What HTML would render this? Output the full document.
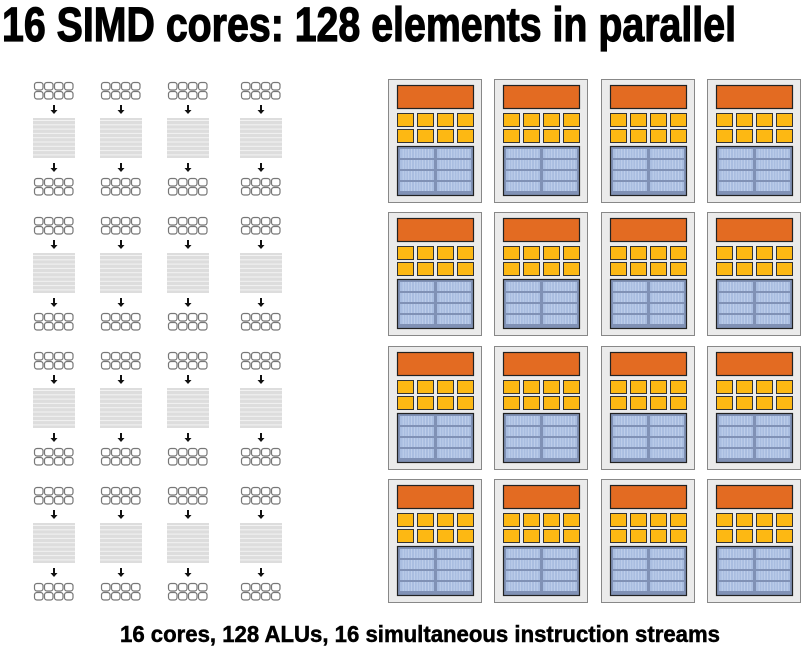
<!DOCTYPE html>
<html><head><meta charset="utf-8"><style>
html,body{margin:0;padding:0;background:#fff;width:803px;height:656px;overflow:hidden}
</style></head><body>
<svg id="s" width="803" height="656" xmlns="http://www.w3.org/2000/svg">
<text x="2" y="41" font-family="Liberation Sans, sans-serif" font-weight="bold" font-size="48" stroke="#000" stroke-width="1.2" textLength="734" lengthAdjust="spacingAndGlyphs">16 SIMD cores: 128 elements in parallel</text>
<text x="120" y="642" font-family="Liberation Sans, sans-serif" font-weight="bold" font-size="23" stroke="#000" stroke-width="0.5" textLength="600" lengthAdjust="spacingAndGlyphs">16 cores, 128 ALUs, 16 simultaneous instruction streams</text>
<g id="g"></g>
</svg>
<script>
var g=document.getElementById('g'),h='';
function r(x,y,w,h2,f,s,sw,rx){return '<rect x="'+x+'" y="'+y+'" width="'+w+'" height="'+h2+'" fill="'+f+'"'+(s?' stroke="'+s+'" stroke-width="'+sw+'"':'')+(rx?' rx="'+rx+'"':'')+'/>';}
var lc=[33,100,167,240];
for(var i=0;i<4;i++)for(var j=0;j<4;j++){
 var x=lc[j],y=82+i*135;
 function grid(yy){for(var a=0;a<2;a++)for(var b=0;b<4;b++)h+=r(x+1.5+b*10,yy+a*9+0.5,8.5,7.5,'#fff','#777',1.2,2.5);}
 grid(y);grid(y+96);
 function arr(yy){h+=r(x+20,yy,2,5,'#111');h+='<polygon points="'+(x+17.5)+','+(yy+5)+' '+(x+24.5)+','+(yy+5)+' '+(x+21)+','+(yy+9)+'" fill="#111"/>';}
 arr(y+23);arr(y+81);
 h+=r(x,y+36,42,40,'#ddd');
 for(var k=0;k<9;k++)h+=r(x,y+38+k*4.3,42,1,'#f2f2f2');
}
var cx=[388,494,601,707],cy=[79,212,346,479];
for(var i=0;i<4;i++)for(var j=0;j<4;j++){
 var x=cx[j],y=cy[i];
 h+=r(x+0.5,y+0.5,93,123,'#ebebeb','#888',1);
 h+=r(x+9.5,y+6.5,76,23,'#e36b22','#222',1.2);
 for(var a=0;a<2;a++)for(var b=0;b<4;b++)h+=r(x+9.5+b*20,y+34.5+a*16,16,13,'#fdb813','#333',1);
 h+=r(x+9.5,y+67.5,76,49,'#8091b5','#222',1.2);
 for(var a=0;a<4;a++)for(var b=0;b<2;b++){var bx=x+12+b*37,by=y+70+a*11;h+=r(bx,by,34,9,'#a9bde0');for(var k=1;k<12;k++)h+=r(bx+k*2.8,by,0.7,9,'#c8d6ef');}
}
g.innerHTML=h;
</script>
</body></html>
